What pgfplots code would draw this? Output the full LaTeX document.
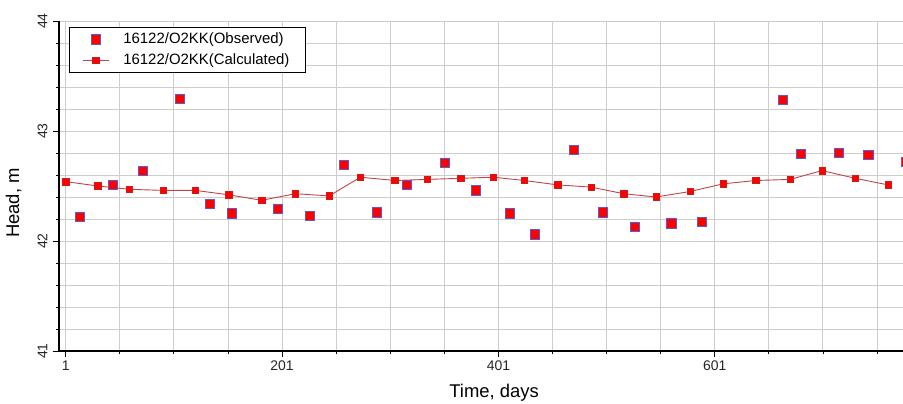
\documentclass[border=0pt]{standalone}
\usepackage{pgfplots}
\pgfplotsset{compat=1.18}
\usepackage{fontspec}
\setmainfont{Liberation Sans}
\definecolor{obsborder}{RGB}{90,90,210}
\definecolor{calcborder}{RGB}{200,30,30}
\definecolor{calcline}{RGB}{190,70,70}
\definecolor{gridgray}{RGB}{205,205,205}
\begin{document}
\begin{tikzpicture}
\useasboundingbox (0,0) rectangle (903bp,404bp);
\begin{axis}[
  at={(59bp,53bp)}, anchor=south west,
  scale only axis, width=860.2bp, height=330bp,
  xmin=-5.2, xmax=790, ymin=41, ymax=44,
  axis lines=left, axis line style={-, line width=1.3bp, black},
  xtick={1,201,401,601},
  minor xtick={51,101,151,251,301,351,451,501,551,651,701,751},
  ytick={41,42,43,44},
  minor ytick={41.2,41.4,41.6,41.8,42.2,42.4,42.6,42.8,43.2,43.4,43.6,43.8},
  grid=both,
  major grid style={gridgray, line width=0.9bp},
  minor grid style={gridgray, line width=0.9bp},
  tick align=outside,
  major tick length=6bp, minor tick length=3bp,
  tick style={black, line width=0.8bp},
  /pgf/number format/assume math mode=true,
  xticklabel style={font=\fontsize{14}{16}\selectfont, text=black!85},
  yticklabel style={font=\fontsize{14}{16}\selectfont, text=black!85, rotate=90, anchor=south},
  yticklabel shift=2bp,
  xlabel={Time, days},
  ylabel={Head, m},
  xlabel style={font=\fontsize{18.5}{20}\selectfont, at={(axis description cs:0.5058,-0.1424)}, anchor=base},
  ylabel style={font=\fontsize{18.5}{20}\selectfont, at={(axis description cs:-0.0465,0.448)}, anchor=base, rotate=0},
  legend image code/.code={\draw[mark repeat=2,mark phase=2,#1] plot coordinates {(0bp,0bp) (13bp,0bp) (26bp,0bp)};},
  legend style={at={(axis description cs:0.01163,0.9818)}, anchor=north west,
    draw=black, line width=0.8bp, fill=white,
    font=\fontsize{15}{17}\selectfont,
    inner xsep=13bp, inner ysep=3.5bp, row sep=4bp, column sep=14bp,
    nodes={inner xsep=0bp, inner ysep=0bp, text width=169bp, text height=13bp, text depth=4bp}},
  legend cell align=left,
]
\addplot[only marks, mark=square*, mark size=4.6bp,
  mark options={fill=red, draw=obsborder, line width=0.9bp}]
coordinates {
(14.2,42.22) (44.7,42.51) (72.5,42.64) (106.7,43.29) (134.5,42.34)
(154.8,42.25) (197.3,42.29) (226.9,42.23) (258.3,42.69) (288.5,42.26)
(316.5,42.51) (351.6,42.71) (380.3,42.46) (412.0,42.25) (435.0,42.06)
(470.5,42.83) (498.0,42.26) (527.0,42.13) (561.0,42.16) (589.5,42.17)
(664.4,43.28) (680.8,42.79) (715.6,42.80) (743.0,42.78) (778.0,42.72)
};
\addlegendentry{16122/O2KK(Observed)}
\addplot[calcline, line width=0.9bp, mark=square*, mark size=3.2bp,
  mark options={fill=red, draw=calcborder, line width=0.6bp}]
coordinates {
(1,42.54) (30.6,42.50) (59.8,42.47) (91.2,42.46) (120.8,42.46)
(151.7,42.42) (182.2,42.37) (213.3,42.43) (244.5,42.41) (273.5,42.58)
(305.4,42.55) (335.0,42.56) (366.4,42.57) (396.3,42.58) (425.0,42.55)
(455.8,42.51) (486.6,42.49) (516.8,42.43) (546.7,42.40) (578.2,42.45)
(608.9,42.52) (638.9,42.55) (670.6,42.56) (700.2,42.64) (730.9,42.57)
(761.2,42.51)
};
\addlegendentry{16122/O2KK(Calculated)}
\end{axis}
\end{tikzpicture}
\end{document}
